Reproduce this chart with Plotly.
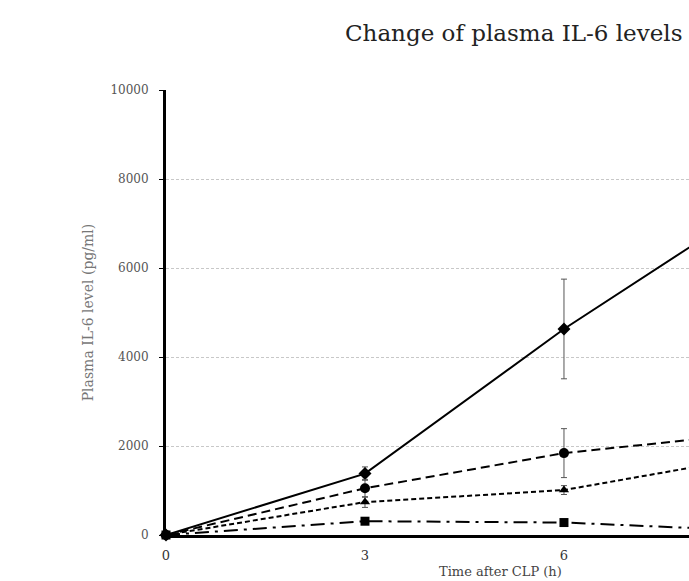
import plotly.graph_objects as go

hours = [0, 3, 6, 9]

s1_vals = [0, 1380, 4630, 7540]
s1_err = [0, 150, 1120, 1200]
s2_vals = [0, 1050, 1840, 2310]
s2_err = [0, 200, 550, 600]
s3_vals = [0, 740, 1010, 1800]
s3_err = [0, 120, 100, 200]
s4_vals = [0, 310, 280, 90]
s4_err = [0, 40, 60, 40]

y_ticks = [0, 2000, 4000, 6000, 8000, 10000]
y_tick_labels = ["0", "2000", "4000", "6000", "8000", "10000"]
x_ticks = [0, 3, 6, 9]

title_text = "Change of plasma IL-6 levels"
y_title = "Plasma IL-6 level (pg/ml)"
x_title = "Time after CLP (h)"

FONT = "DejaVu Serif"

L, R_, T, B = 166, 689, 90, 535
W, H = 689, 581
PW, PH = R_ - L, B - T

series = [
    (s1_vals, s1_err, "solid", "diamond", 10),
    (s2_vals, s2_err, "9px,5px", "circle", 10),
    (s3_vals, s3_err, "5px,3px", "triangle-up", 9),
    (s4_vals, s4_err, "14px,6px,3px,6px", "square", 9),
]

fig = go.Figure()
for vals, err, dash, sym, size in series:
    fig.add_trace(go.Scatter(
        x=hours, y=vals, mode="lines+markers",
        line=dict(color="black", width=2, dash=dash),
        marker=dict(symbol=sym, size=size, color="black"),
        error_y=dict(type="data", array=err, color="#555555", thickness=1, width=3),
        cliponaxis=False, showlegend=False,
    ))

fig.update_layout(
    width=W, height=H,
    margin=dict(l=L, r=W - R_, t=T, b=H - B, pad=0),
    paper_bgcolor="white", plot_bgcolor="white",
    font=dict(family=FONT, color="#444444", size=11),
    annotations=[
        dict(text=title_text, xref="paper", yref="paper",
             x=(343 - L) / PW, y=(B - 33) / PH,
             xanchor="left", yanchor="middle", showarrow=False,
             font=dict(size=23, color="#222222", family=FONT)),
        dict(text=x_title, xref="paper", yref="paper",
             x=(500 - L) / PW, y=(B - 581) / PH,
             xanchor="center", yanchor="bottom", showarrow=False,
             font=dict(size=13, color="#444444", family=FONT)),
    ],
)

fig.update_xaxes(
    range=[0, 7.885], tickvals=x_ticks, showgrid=False, zeroline=False,
    showline=True, linecolor="black", linewidth=3,
    ticks="", ticklabelstandoff=6, tickfont=dict(size=13, color="#333333"),
)
fig.update_yaxes(
    range=[0, 10000], tickvals=y_ticks, ticktext=y_tick_labels, showgrid=True,
    gridcolor="#c8c8c8", griddash="3px,2px", gridwidth=1, zeroline=False,
    showline=True, linecolor="black", linewidth=3,
    ticks="outside", ticklen=4, tickcolor="black", tickwidth=1,
    ticklabelstandoff=8,
    tickfont=dict(size=12, color="#555555"),
    title=dict(text=y_title, font=dict(size=14, color="#777777", family=FONT), standoff=14),
)

fig.write_html(
    "out.html",
    config={"displayModeBar": False},
    post_script="document.body.style.margin='0';document.body.style.overflow='hidden';",
)
